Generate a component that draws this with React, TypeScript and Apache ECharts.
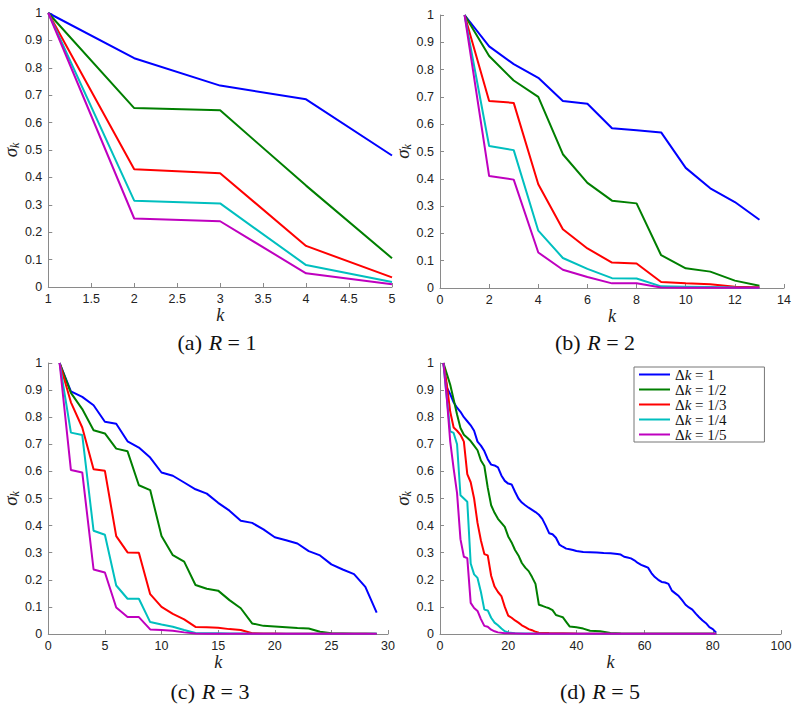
import React, { useEffect, useRef } from "react";
import * as echarts from "echarts";

// ---------- data ----------
const legendLabels = ["1", "1/2", "1/3", "1/4", "1/5"];
const colors = ["#0000ff", "#007f00", "#ff0000", "#00bfbf", "#bf00bf"];

// (a) R = 1, k = 1..5
const aBlue = [1, 0.835, 0.735, 0.685, 0.48];
const aGreen = [1, 0.653, 0.645, 0.37, 0.105];
const aRed = [1, 0.43, 0.415, 0.15, 0.035];
const aCyan = [1, 0.315, 0.305, 0.08, 0.018];
const aMagenta = [1, 0.25, 0.24, 0.05, 0.01];

// (b) R = 2, k = 1..13
const bBlue = [1, 0.885, 0.82, 0.77, 0.685, 0.675, 0.585, 0.578, 0.57, 0.44, 0.365, 0.315, 0.25];
const bGreen = [1, 0.85, 0.76, 0.7, 0.49, 0.385, 0.32, 0.31, 0.12, 0.072, 0.06, 0.027, 0.008];
const bRed = [1, 0.685, 0.678, 0.38, 0.215, 0.145, 0.093, 0.09, 0.022, 0.017, 0.014, 0.005, 0.003];
const bCyan = [1, 0.52, 0.505, 0.21, 0.11, 0.07, 0.036, 0.035, 0.006, 0.005, 0.004, 0.002, 0.001];
const bMagenta = [1, 0.41, 0.397, 0.13, 0.067, 0.04, 0.017, 0.017, 0.002, 0.001, 0.001, 0.001, 0.0005];

// (c) R = 3, k = 1..29
const cBlue = [1, 0.895, 0.875, 0.844, 0.783, 0.776, 0.711, 0.688, 0.651, 0.596, 0.584, 0.559, 0.534, 0.518, 0.484, 0.455, 0.418, 0.41, 0.386, 0.357, 0.346, 0.334, 0.306, 0.29, 0.257, 0.238, 0.221, 0.174, 0.079];
const cGreen = [1, 0.89, 0.83, 0.752, 0.74, 0.684, 0.674, 0.549, 0.531, 0.362, 0.291, 0.267, 0.181, 0.167, 0.16, 0.125, 0.095, 0.039, 0.03, 0.028, 0.025, 0.022, 0.02, 0.008, 0.003, 0.002, 0.001, 0.001, 0.0005];
const cRed = [1, 0.855, 0.762, 0.608, 0.602, 0.361, 0.301, 0.3, 0.147, 0.1, 0.074, 0.054, 0.026, 0.025, 0.023, 0.018, 0.015, 0.003, 0.002, 0.002, 0.001, 0.001, 0.001, 0.001, 0.0005, 0.0005, 0.0005, 0.0005, 0.0003];
const cCyan = [1, 0.743, 0.734, 0.381, 0.366, 0.179, 0.13, 0.13, 0.044, 0.035, 0.027, 0.015, 0.004, 0.003, 0.003, 0.002, 0.002, 0.001, 0.001, 0.001, 0.001, 0.0005, 0.0005, 0.0005, 0.0005, 0.0005, 0.0005, 0.0005, 0.0005];
const cMagenta = [1, 0.605, 0.596, 0.238, 0.227, 0.098, 0.0625, 0.0625, 0.017, 0.015, 0.012, 0.006, 0.002, 0.001, 0.001, 0.001, 0.001, 0.0005, 0.0005, 0.0005, 0.0005, 0.0005, 0.0005, 0.0005, 0.0005, 0.0005, 0.0005, 0.0005, 0.0005];

// (d) R = 5, [k, sigma] read at the visible vertices, k = 1..81
const dBlue = [[1, 1], [2, 0.91], [3, 0.885], [4, 0.855], [5, 0.835], [6, 0.82], [7, 0.8], [8, 0.785], [9, 0.77], [10, 0.75], [11, 0.71], [12, 0.695], [13, 0.675], [14, 0.645], [15, 0.625], [16, 0.622], [17, 0.615], [18, 0.585], [19, 0.565], [20, 0.555], [21, 0.552], [22, 0.525], [23, 0.5], [24, 0.485], [25, 0.475], [26, 0.466], [27, 0.458], [28, 0.45], [29, 0.44], [30, 0.425], [31, 0.4], [32, 0.372], [33, 0.368], [34, 0.355], [35, 0.33], [36, 0.322], [37, 0.315], [38, 0.313], [39, 0.31], [40, 0.306], [42, 0.303], [44, 0.302], [46, 0.301], [48, 0.299], [50, 0.298], [52, 0.295], [53, 0.293], [54, 0.285], [55, 0.282], [56, 0.279], [57, 0.272], [58, 0.262], [59, 0.255], [60, 0.25], [61, 0.245], [62, 0.225], [63, 0.21], [64, 0.2], [65, 0.192], [66, 0.19], [67, 0.185], [68, 0.16], [69, 0.15], [70, 0.14], [71, 0.125], [72, 0.108], [73, 0.098], [74, 0.09], [75, 0.075], [76, 0.062], [77, 0.05], [78, 0.04], [79, 0.025], [80, 0.018], [81, 0.005]];
const dGreen = [[1, 1], [2, 0.96], [3, 0.92], [4, 0.865], [5, 0.81], [6, 0.76], [7, 0.735], [8, 0.724], [9, 0.712], [10, 0.695], [11, 0.678], [12, 0.64], [13, 0.62], [14, 0.54], [15, 0.475], [16, 0.447], [17, 0.425], [18, 0.41], [19, 0.395], [20, 0.36], [21, 0.338], [22, 0.31], [23, 0.29], [24, 0.262], [25, 0.245], [26, 0.232], [27, 0.21], [28, 0.185], [29, 0.108], [30, 0.104], [31, 0.099], [32, 0.095], [33, 0.088], [34, 0.07], [35, 0.066], [36, 0.062], [37, 0.045], [38, 0.028], [40, 0.025], [42, 0.02], [44, 0.012], [47, 0.01], [50, 0.004], [53, 0.002], [60, 0.001], [81, 0.0005]];
const dRed = [[1, 1], [2, 0.92], [3, 0.82], [4, 0.762], [5, 0.75], [6, 0.735], [7, 0.71], [8, 0.59], [9, 0.56], [10, 0.5], [11, 0.41], [12, 0.345], [13, 0.295], [14, 0.29], [15, 0.215], [16, 0.175], [17, 0.155], [18, 0.14], [19, 0.1], [20, 0.068], [21, 0.06], [22, 0.05], [23, 0.042], [24, 0.032], [25, 0.025], [26, 0.018], [27, 0.014], [28, 0.008], [29, 0.005], [32, 0.004], [40, 0.002], [50, 0.001], [81, 0.0005]];
const dCyan = [[1, 1], [2, 0.87], [3, 0.748], [4, 0.742], [5, 0.7], [6, 0.512], [7, 0.5], [8, 0.488], [9, 0.26], [10, 0.22], [11, 0.207], [12, 0.155], [13, 0.09], [14, 0.087], [15, 0.06], [16, 0.042], [17, 0.032], [18, 0.02], [19, 0.01], [20, 0.006], [22, 0.003], [30, 0.001], [81, 0.0005]];
const dMagenta = [[1, 1], [2, 0.87], [3, 0.71], [4, 0.61], [5, 0.52], [6, 0.35], [7, 0.285], [8, 0.28], [9, 0.115], [10, 0.096], [11, 0.085], [12, 0.055], [13, 0.03], [14, 0.027], [15, 0.016], [16, 0.01], [17, 0.006], [19, 0.003], [25, 0.001], [81, 0.0005]];

const panelA = [aBlue, aGreen, aRed, aCyan, aMagenta];
const panelB = [bBlue, bGreen, bRed, bCyan, bMagenta];
const panelC = [cBlue, cGreen, cRed, cCyan, cMagenta];
const panelD = [dBlue, dGreen, dRed, dCyan, dMagenta];

const xRanges = [
  { min: 1, max: 5, interval: 0.5 },
  { min: 0, max: 14, interval: 2 },
  { min: 0, max: 30, interval: 5 },
  { min: 0, max: 100, interval: 20 },
];
const captions = [
  { tag: "(a)", r: "1" },
  { tag: "(b)", r: "2" },
  { tag: "(c)", r: "3" },
  { tag: "(d)", r: "5" },
];

// ---------- styling ----------
const SERIF = "'Liberation Serif', 'DejaVu Serif', serif";
const SANS = "'Liberation Sans', Arial, sans-serif";
const AXIS_GRAY = "#8a8a8a";

const grids = [
  { left: 43, top: 13, width: 349, height: 274 },
  { left: 440, top: 15, width: 344, height: 273 },
  { left: 42, top: 363, width: 346, height: 271 },
  { left: 440, top: 363, width: 341, height: 271 },
];
const captionPos = [
  { x: 217, y: 342 },
  { x: 595, y: 342 },
  { x: 210, y: 691 },
  { x: 600, y: 691 },
];

function seqPairs(vals: number[]) {
  return vals.map((v, i) => [i + 1, v]);
}

export default function App() {
  const ref = useRef<HTMLDivElement>(null);

  useEffect(() => {
    if (!ref.current) return;
    const chart = echarts.init(ref.current, undefined, { renderer: "svg" });

    const axisLine = { show: true, lineStyle: { color: AXIS_GRAY, width: 1 } };
    const axisTick = { show: true, inside: true, length: 4, lineStyle: { color: AXIS_GRAY } };
    const axisLabelStyle = { color: "#222", fontFamily: SANS, fontSize: 12.5 };

    const xAxis = xRanges.map((r, i) => ({
      type: "value",
      gridIndex: i,
      min: r.min,
      max: r.max,
      interval: r.interval,
      axisLine,
      axisTick,
      splitLine: { show: false },
      axisLabel: { ...axisLabelStyle, margin: 5 },
      name: "k",
      nameLocation: "middle",
      nameGap: 12,
      nameTextStyle: { fontFamily: SERIF, fontStyle: "italic", fontSize: 18, color: "#222" },
    }));

    const yAxis = grids.map((_, i) => ({
      type: "value",
      gridIndex: i,
      min: 0,
      max: 1,
      interval: 0.1,
      axisLine,
      axisTick,
      splitLine: { show: false },
      axisLabel: { ...axisLabelStyle, margin: 6 },
      name: "{s|σ}{sub|k}",
      nameLocation: "middle",
      nameRotate: 90,
      nameGap: 26,
      nameTextStyle: {
        rich: {
          s: { fontFamily: SERIF, fontStyle: "italic", fontSize: 19, color: "#222" },
          sub: { fontFamily: SERIF, fontStyle: "italic", fontSize: 12, color: "#222", padding: [9, 0, 0, 0] },
        },
      },
    }));

    const panels = [panelA.map(seqPairs), panelB.map(seqPairs), panelC.map(seqPairs), panelD];
    const series: any[] = [];
    panels.forEach((panel, pi) => {
      panel.forEach((data, si) => {
        series.push({
          type: "line",
          name: `Δk = ${legendLabels[si]}`,
          xAxisIndex: pi,
          yAxisIndex: pi,
          data,
          symbol: "none",
          lineStyle: { color: colors[si], width: 2 },
          itemStyle: { color: colors[si] },
          z: 2 + si,
        });
      });
    });

    const graphic = captions.map((c, i) => ({
      type: "text",
      x: captionPos[i].x,
      y: captionPos[i].y,
      style: {
        text: `{n|${c.tag}}  {i|R}{n| = ${c.r}}`,
        align: "center",
        verticalAlign: "middle",
        rich: {
          n: { fontFamily: SERIF, fontSize: 22, fill: "#111" },
          i: { fontFamily: SERIF, fontSize: 22, fontStyle: "italic", fill: "#111" },
        },
      },
    }));

    chart.setOption({
      animation: false,
      grid: grids.map((g) => ({ ...g, containLabel: false })),
      xAxis,
      yAxis,
      series,
      graphic,
      legend: {
        show: true,
        orient: "vertical",
        left: 634,
        top: 367,
        data: legendLabels.map((l) => `Δk = ${l}`),
        icon: "rect",
        backgroundColor: "#fff",
        borderColor: "#777",
        borderWidth: 1,
        borderRadius: 0,
        padding: [0, 38, 0, 5],
        itemGap: 0,
        itemWidth: 31,
        itemHeight: 2,
        selectedMode: false,
        formatter: (name: string) => `{a|Δ}{i|k}{a| = ${name.slice(5)}}`,
        textStyle: {
          rich: {
            a: { fontFamily: SERIF, fontSize: 15, color: "#111", lineHeight: 15.4 },
            i: { fontFamily: SERIF, fontSize: 15, fontStyle: "italic", color: "#111", lineHeight: 15.4 },
          },
        },
      },
    });

    return () => chart.dispose();
  }, []);

  return (
    <div
      ref={ref}
      style={{ position: "absolute", left: 0, top: 0, width: 800, height: 713, background: "#fff" }}
    />
  );
}
